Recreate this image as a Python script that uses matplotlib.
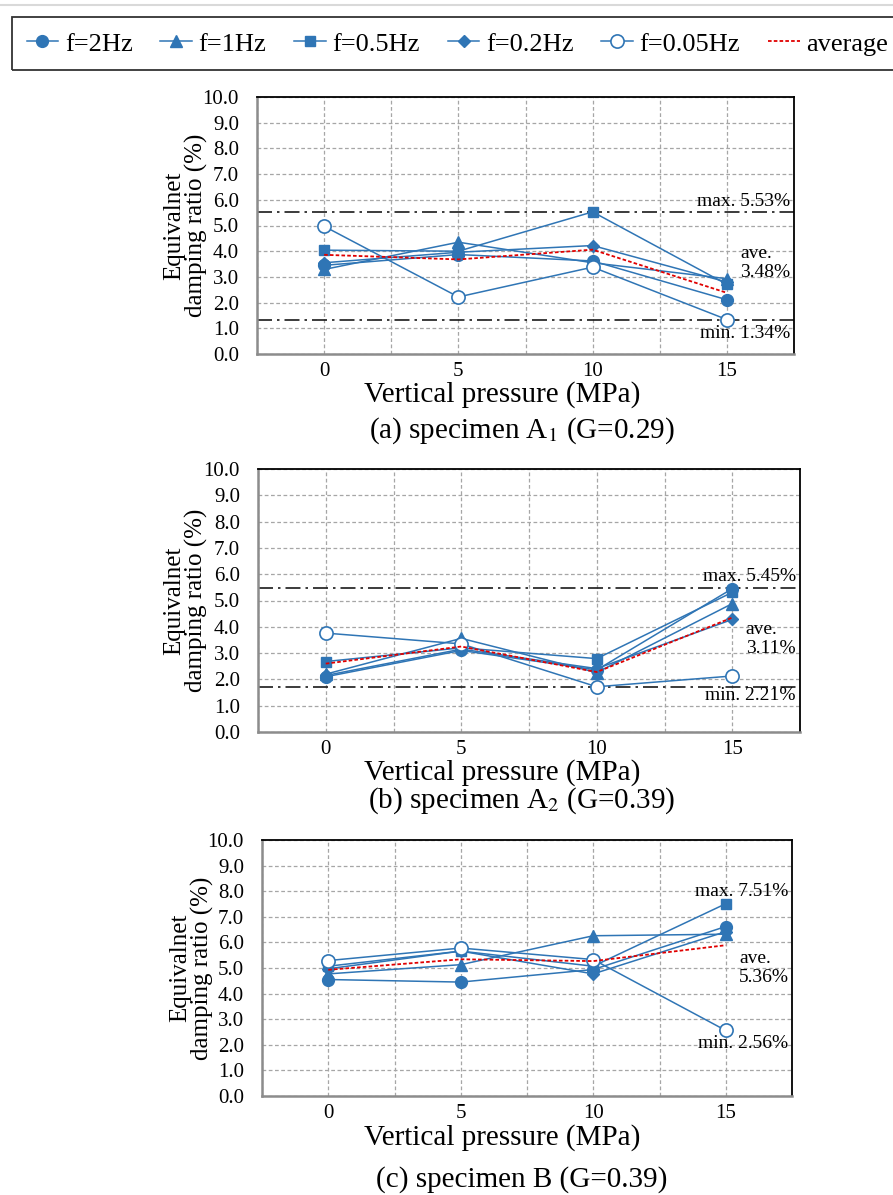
import matplotlib.pyplot as plt
from matplotlib.lines import Line2D
from matplotlib.patches import Rectangle

plt.rcParams["font.family"] = ["Liberation Serif", "DejaVu Serif"]
plt.rcParams["mathtext.fontset"] = "stix"

# ---- data -------------------------------------------------------------
pressure = [0, 5, 10, 15]
series_labels = ["f=2Hz", "f=1Hz", "f=0.5Hz", "f=0.2Hz", "f=0.05Hz"]

# (a) specimen A1
a1_2hz = [3.45, 3.87, 3.62, 2.11]
a1_1hz = [3.29, 4.35, 3.55, 2.93]
a1_05hz = [4.04, 4.00, 5.53, 2.71]
a1_02hz = [3.55, 3.96, 4.22, 2.80]
a1_005hz = [4.97, 2.22, 3.38, 1.34]
a1_avg = [3.86, 3.68, 4.06, 2.38]

# (b) specimen A2
a2_2hz = [2.10, 3.10, 2.36, 5.45]
a2_1hz = [2.20, 3.56, 2.26, 4.88]
a2_05hz = [2.68, 3.20, 2.79, 5.31]
a2_02hz = [2.15, 3.15, 2.41, 4.28]
a2_005hz = [3.76, 3.35, 1.72, 2.13]
a2_avg = [2.60, 3.25, 2.28, 4.35]

# (c) specimen B
b_2hz = [4.55, 4.45, 4.94, 6.62]
b_1hz = [4.77, 5.13, 6.26, 6.32]
b_05hz = [5.07, 5.66, 5.07, 7.51]
b_02hz = [4.97, 5.66, 4.77, 6.42]
b_005hz = [5.29, 5.78, 5.33, 2.56]
b_avg = [4.93, 5.34, 5.27, 5.89]

max_lines = [5.53, 5.48, None]
min_lines = [1.34, 1.72, None]
max_labels = ["max. 5.53%", "max. 5.45%", "max. 7.51%"]
min_labels = ["min. 1.34%", "min. 2.21%", "min. 2.56%"]
ave_labels = ["ave.\n3.48%", "ave.\n3.11%", "ave.\n5.36%"]
captions = [
    "(a) specimen A$_1$ (G=0.29)",
    "(b) specimen A$_2$ (G=0.39)",
    "(c) specimen B (G=0.39)",
]
yticks = [0, 1, 2, 3, 4, 5, 6, 7, 8, 9, 10]
xticks = [0, 5, 10, 15]

# ---- style ------------------------------------------------------------
W, H = 893, 1195
BLUE = "#2F75B5"
markers = [
    dict(marker="o", ms=8.5, mfc=BLUE, mec=BLUE),
    dict(marker="^", ms=8.5, mfc=BLUE, mec=BLUE),
    dict(marker="s", ms=7, mfc=BLUE, mec=BLUE),
    dict(marker="D", ms=6.5, mfc=BLUE, mec=BLUE),
    dict(marker="o", ms=9.5, mfc="white", mec=BLUE, mew=1.2),
]
# pixel boxes: left, top, right, bottom
boxes = [(257, 97, 794, 354), (258, 469, 800, 732), (262, 840, 792, 1096)]
xlabel_y = [395, 773, 1138]
caption_y = [431, 801, 1180]
# text anchors (data coords)
max_text_y = [5.95, 5.93, 8.0]
min_text_y = [0.78, 1.37, 2.07]
ave_text_y = [3.53, 3.55, 5.0]


def draw_panel(ax, series, avg, i):
    for vals, lab, mk in zip(series, series_labels, markers):
        ax.plot(pressure, vals, color=BLUE, lw=1.1, label=lab, zorder=3, **mk)
    ax.plot(pressure, avg, color="#E00000", lw=1.3, dashes=(2, 1.2),
            label="average", zorder=4)

    if max_lines[i] is not None:
        ax.axhline(max_lines[i], color="#1a1a1a", lw=1.2,
                   dashes=(9, 3, 1.5, 3), zorder=2)
    if min_lines[i] is not None:
        ax.axhline(min_lines[i], color="#1a1a1a", lw=1.2,
                   dashes=(9, 3, 1.5, 3), zorder=2)

    ax.text(17.35, max_text_y[i], max_labels[i], ha="right", va="center",
            fontsize=14, zorder=5)
    ax.text(17.35, min_text_y[i], min_labels[i], ha="right", va="center",
            fontsize=14, zorder=5)
    ax.text(15.5, ave_text_y[i], ave_labels[i], ha="left", va="center",
            fontsize=14, linespacing=1.15, zorder=5)

    ax.set_xlim(-2.5, 17.5)
    ax.set_ylim(0, 10)
    ax.set_xticks(xticks)
    ax.set_xticks([-2.5, 2.5, 7.5, 12.5, 17.5], minor=True)
    ax.set_yticks(yticks)
    ax.set_yticklabels([f"{v:.1f}" for v in yticks])
    ax.tick_params(which="both", length=0, labelsize=15)
    ax.tick_params(axis="y", pad=13)
    ax.tick_params(axis="x", pad=6)
    ax.grid(which="both", color="#a6a6a6", lw=0.9, dashes=(3, 2))

    for side in ["left", "bottom"]:
        ax.spines[side].set_color("#8c8c8c")
        ax.spines[side].set_linewidth(1.8)
    for side in ["top", "right"]:
        ax.spines[side].set_color("black")
        ax.spines[side].set_linewidth(1.3)

    ax.text(-0.133, 0.5, "Equivalnet\ndamping ratio (%)", rotation=90,
            ha="center", va="center", multialignment="center",
            fontsize=18, linespacing=1.0, transform=ax.transAxes)


fig = plt.figure(figsize=(W / 100, H / 100), dpi=100)

all_series = [
    ([a1_2hz, a1_1hz, a1_05hz, a1_02hz, a1_005hz], a1_avg),
    ([a2_2hz, a2_1hz, a2_05hz, a2_02hz, a2_005hz], a2_avg),
    ([b_2hz, b_1hz, b_05hz, b_02hz, b_005hz], b_avg),
]

axes = []
for i, (series, avg) in enumerate(all_series):
    l, t, r, b = boxes[i]
    ax = fig.add_axes([l / W, 1 - b / H, (r - l) / W, (b - t) / H])
    draw_panel(ax, series, avg, i)
    axes.append(ax)
    fig.text(502 / W, 1 - xlabel_y[i] / H, "Vertical pressure (MPa)",
             ha="center", va="center", fontsize=21)
    fig.text(522 / W, 1 - caption_y[i] / H, captions[i],
             ha="center", va="center", fontsize=21)

# top rule and legend box
fig.add_artist(Line2D([0, 1], [1 - 5 / H, 1 - 5 / H], color="#d9d9d9", lw=1.5,
                      transform=fig.transFigure))
fig.add_artist(Rectangle((12 / W, 1 - 70 / H), 1.0, 53 / H, fill=False,
                         edgecolor="#333333", lw=1.3, transform=fig.transFigure))

handles, labels = axes[0].get_legend_handles_labels()
fig.legend(handles, labels, loc="center left", bbox_to_anchor=(16 / W, 1 - 44 / H),
           ncol=6, frameon=False, fontsize=19, handlelength=1.2,
           handletextpad=0.25, columnspacing=1.05, borderaxespad=0)

fig.savefig("out.png", dpi=100)
